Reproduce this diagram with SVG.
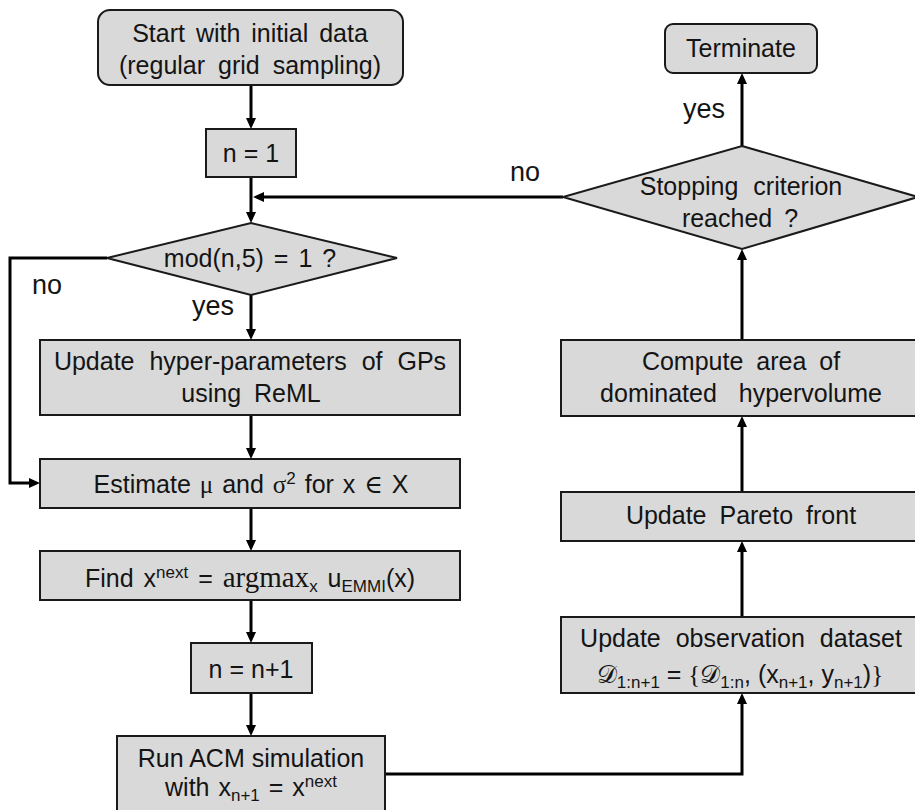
<svg xmlns="http://www.w3.org/2000/svg" width="915" height="810" viewBox="0 0 915 810">
  <defs>
    <style>
      .box { fill: #d9d9d9; stroke: #1a1a1a; stroke-width: 2; }
      .t { font-family: "Liberation Sans", Arial, sans-serif; font-size: 25px; fill: #141414; text-anchor: middle; }
      .lbl { font-family: "Liberation Sans", Arial, sans-serif; font-size: 27px; fill: #141414; }
      .m { font-family: "Liberation Serif", "DejaVu Serif", serif; }
      .s { font-size: 17px; }
      .conn { stroke: #000; stroke-width: 3; fill: none; marker-end: url(#ah); }
    </style>
    <marker id="ah" markerUnits="userSpaceOnUse" markerWidth="11" markerHeight="10" viewBox="0 0 11 10" refX="5" refY="5" orient="auto">
      <path d="M0,0 L11,5 L0,10 z" fill="#000"/>
    </marker>
  </defs>
  <rect width="915" height="810" fill="#fff"/>

  <!-- connectors -->
  <g id="connectors">
    <path class="conn" d="M251,85 V123"/>
    <path class="conn" d="M251,177 V217"/>
    <path class="conn" d="M563,197 H259"/>
    <path class="conn" d="M107,258 H10 V483 H34"/>
    <path class="conn" d="M251,295 V334"/>
    <path class="conn" d="M251,415 V453"/>
    <path class="conn" d="M251,508 V545"/>
    <path class="conn" d="M251,600 V637"/>
    <path class="conn" d="M251,693 V730"/>
    <path class="conn" d="M385,774 H742 V699"/>
    <path class="conn" d="M742,617 V547"/>
    <path class="conn" d="M742,492 V422"/>
    <path class="conn" d="M742,340 V255"/>
    <path class="conn" d="M742,146 V79"/>
    <text class="lbl" x="32" y="294">no</text>
    <text class="lbl" x="192" y="315">yes</text>
    <text class="lbl" x="683" y="118">yes</text>
    <text class="lbl" x="510" y="181">no</text>
  </g>

  <!-- left column -->
  <g id="start">
    <rect class="box" x="98" y="10" width="305" height="75" rx="12"/>
    <text class="t" x="250" y="42" word-spacing="4">Start with initial data</text>
    <text class="t" x="250" y="74" word-spacing="6">(regular grid sampling)</text>
  </g>
  <g id="init-n">
    <rect class="box" x="206" y="129" width="90" height="48"/>
    <text class="t" x="251" y="162">n = 1</text>
  </g>
  <g id="mod-check">
    <polygon class="box" points="251,223 397,258 251,295 107,258"/>
    <text class="t" x="250" y="267" word-spacing="3">mod(n,5) = 1 ?</text>
  </g>
  <g id="update-hyper">
    <rect class="box" x="40" y="340" width="420" height="75"/>
    <text class="t" x="250" y="370" word-spacing="8">Update hyper-parameters of GPs</text>
    <text class="t" x="251" y="402" word-spacing="6">using ReML</text>
  </g>
  <g id="estimate">
    <rect class="box" x="40" y="459" width="420" height="49"/>
    <text class="t" x="251" y="493" word-spacing="2">Estimate <tspan class="m">μ</tspan> and <tspan class="m">σ</tspan><tspan class="s" dy="-9">2</tspan><tspan dy="9"> for x </tspan><tspan class="m">∈</tspan> X</text>
  </g>
  <g id="find-next">
    <rect class="box" x="40" y="551" width="420" height="49"/>
    <text class="t" x="250" y="587" word-spacing="3">Find x<tspan class="s" dy="-9">next</tspan><tspan dy="9"> = </tspan><tspan class="m" font-size="29">argmax</tspan><tspan class="s" dy="5">x</tspan><tspan dy="-5"> u</tspan><tspan class="s" dy="5">EMMI</tspan><tspan dy="-5">(x)</tspan></text>
  </g>
  <g id="increment-n">
    <rect class="box" x="191" y="643" width="121" height="50"/>
    <text class="t" x="251" y="678">n = n+1</text>
  </g>
  <g id="run-acm">
    <rect class="box" x="117" y="736" width="268" height="90"/>
    <text class="t" x="251" y="767">Run ACM simulation</text>
    <text class="t" x="251" y="796" word-spacing="2">with x<tspan class="s" dy="5">n+1</tspan><tspan dy="-5"> = x</tspan><tspan class="s" dy="-9">next</tspan></text>
  </g>

  <!-- right column -->
  <g id="terminate">
    <rect class="box" x="665" y="24" width="152" height="49" rx="8"/>
    <text class="t" x="741" y="57">Terminate</text>
  </g>
  <g id="stop-check">
    <polygon class="box" points="742,146 918,197 742,249 563,197"/>
    <text class="t" x="741" y="195" word-spacing="8">Stopping criterion</text>
    <text class="t" x="740" y="227" word-spacing="5">reached ?</text>
  </g>
  <g id="hypervolume">
    <rect class="box" x="561" y="340" width="364" height="76"/>
    <text class="t" x="741" y="370" word-spacing="6">Compute area of</text>
    <text class="t" x="741" y="402" word-spacing="15">dominated hypervolume</text>
  </g>
  <g id="pareto">
    <rect class="box" x="561" y="492" width="364" height="49"/>
    <text class="t" x="741" y="524" word-spacing="6">Update Pareto front</text>
  </g>
  <g id="observation">
    <rect class="box" x="561" y="617" width="364" height="76"/>
    <text class="t" x="741" y="647" word-spacing="8">Update observation dataset</text>
    <text class="t" x="740" y="683"><tspan class="m">𝒟</tspan><tspan class="s" dy="5">1:n+1</tspan><tspan dy="-5"> = </tspan><tspan class="m">{</tspan><tspan class="m">𝒟</tspan><tspan class="s" dy="5">1:n</tspan><tspan dy="-5">, (x</tspan><tspan class="s" dy="5">n+1</tspan><tspan dy="-5">, y</tspan><tspan class="s" dy="5">n+1</tspan><tspan dy="-5">)</tspan><tspan class="m">}</tspan></text>
  </g>
</svg>
